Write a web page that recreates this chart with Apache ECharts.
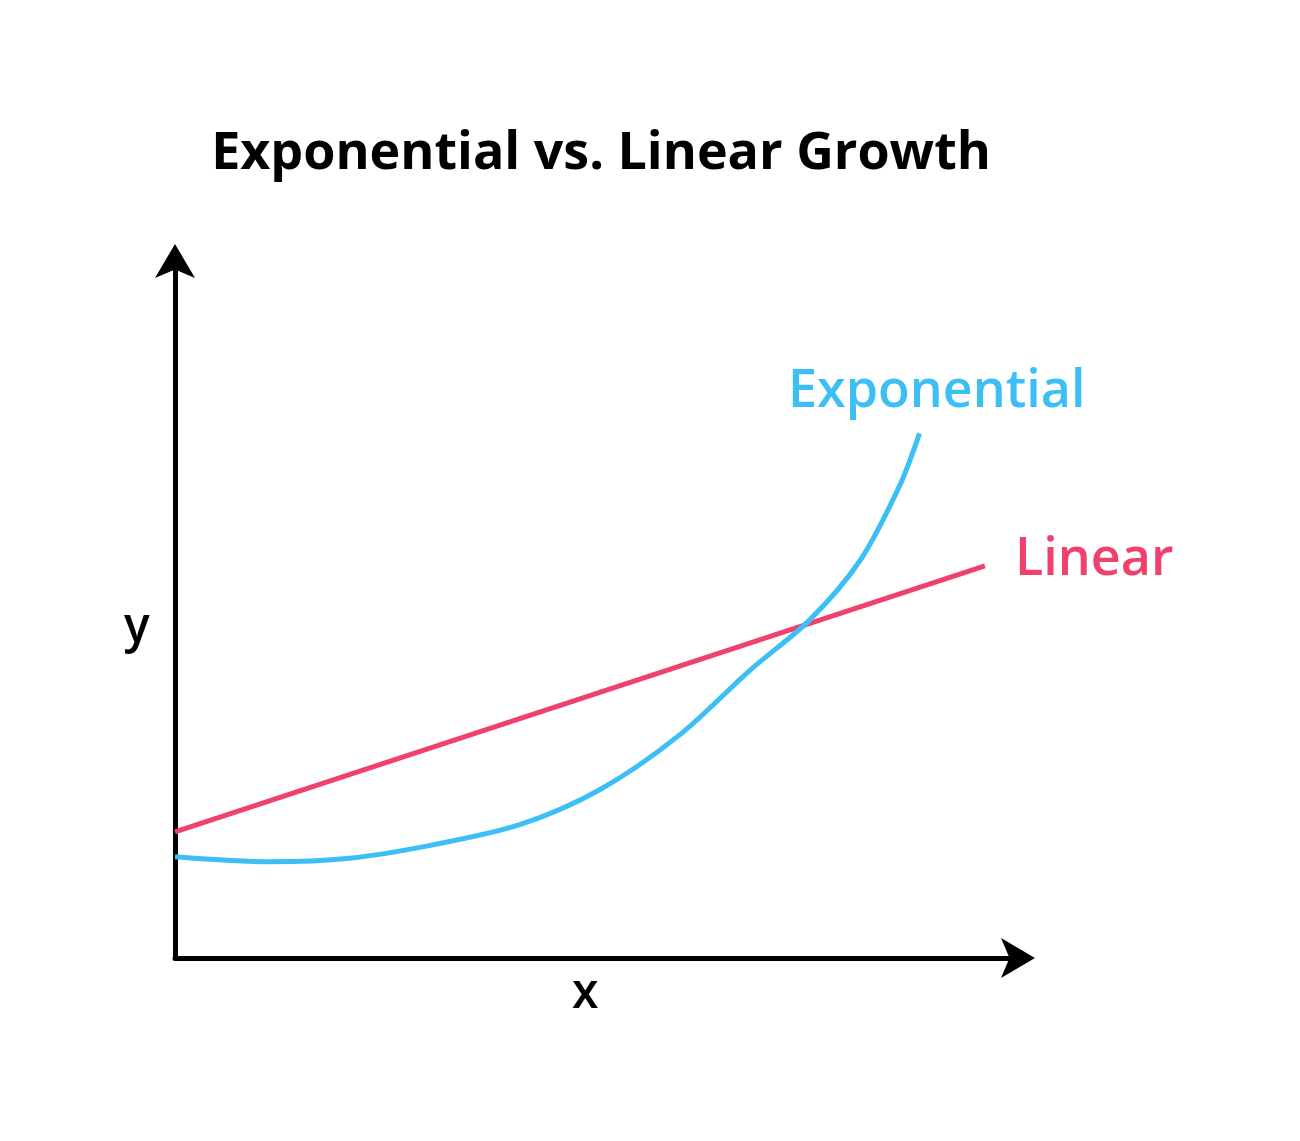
<!DOCTYPE html>
<html>
<head>
    <meta charset="UTF-8">
    <title>Exponential vs. Linear Growth</title>
    <script src="https://cdn.jsdelivr.net/npm/echarts@6/dist/echarts.min.js"></script>
    <style>
        html, body { margin: 0; background: #fff; }
        #chartContainer { width: 1300px; height: 1141px; }
    </style>
</head>
<body>
<div id="chartContainer"></div>
<script>
    // 数据（坐标 0-100 的相对值）
    var linearX = [0, 94.2];
    var linearY = [17.7, 55.0];
    var expX = [0, 11, 20.3, 29.7, 40.1, 49.4, 58.7, 66.9, 73.8, 79.7, 84.3, 86.6];
    var expY = [14.2, 13.5, 14.0, 15.8, 18.7, 23.6, 31.3, 40.4, 47.4, 55.8, 66.3, 73.6];

    function pairs(xs, ys) {
        var out = [];
        for (var i = 0; i < xs.length; i++) out.push([xs[i], ys[i]]);
        return out;
    }

    var font = '"Open Sans", "Noto Sans", sans-serif';
    var axisLine = {
        show: true,
        symbol: ['none', 'arrow'],
        symbolSize: [30, 34],
        symbolOffset: [0, 14],
        lineStyle: { color: '#000', width: 5 }
    };

    var myChart = echarts.init(document.getElementById('chartContainer'));
    myChart.setOption({
        backgroundColor: '#fff',
        animation: false,
        title: {
            text: 'Exponential vs. Linear Growth',
            left: 596, top: 123, textAlign: 'center',
            textStyle: { fontFamily: font, fontWeight: 'bold', fontSize: 52, color: '#000' }
        },
        grid: { left: 175, right: 279, top: 258, bottom: 183 },
        xAxis: {
            type: 'value', min: 0, max: 98.4,
            axisLine: axisLine, axisTick: { show: false },
            axisLabel: { show: false }, splitLine: { show: false }
        },
        yAxis: {
            type: 'value', min: 0, max: 98.2,
            axisLine: axisLine, axisTick: { show: false },
            axisLabel: { show: false }, splitLine: { show: false }
        },
        series: [
            {
                type: 'line', data: pairs(linearX, linearY), symbol: 'none',
                lineStyle: { color: '#f0416c', width: 5 }
            },
            {
                type: 'line', data: pairs(expX, expY), symbol: 'none', smooth: 0.3,
                lineStyle: { color: '#3bbff5', width: 5 }
            }
        ],
        graphic: [
            { type: 'text', left: 788, top: 366,
              style: { text: 'Exponential', fill: '#3bbff5', font: '600 52px ' + font } },
            { type: 'text', left: 1015, top: 534,
              style: { text: 'Linear', fill: '#f0416c', font: '600 52px ' + font } },
            { type: 'text', left: 124, top: 604,
              style: { text: 'y', fill: '#000', font: '600 48px ' + font } },
            { type: 'text', left: 572, top: 970,
              style: { text: 'x', fill: '#000', font: '600 48px ' + font } }
        ]
    });
</script>
</body>
</html>
